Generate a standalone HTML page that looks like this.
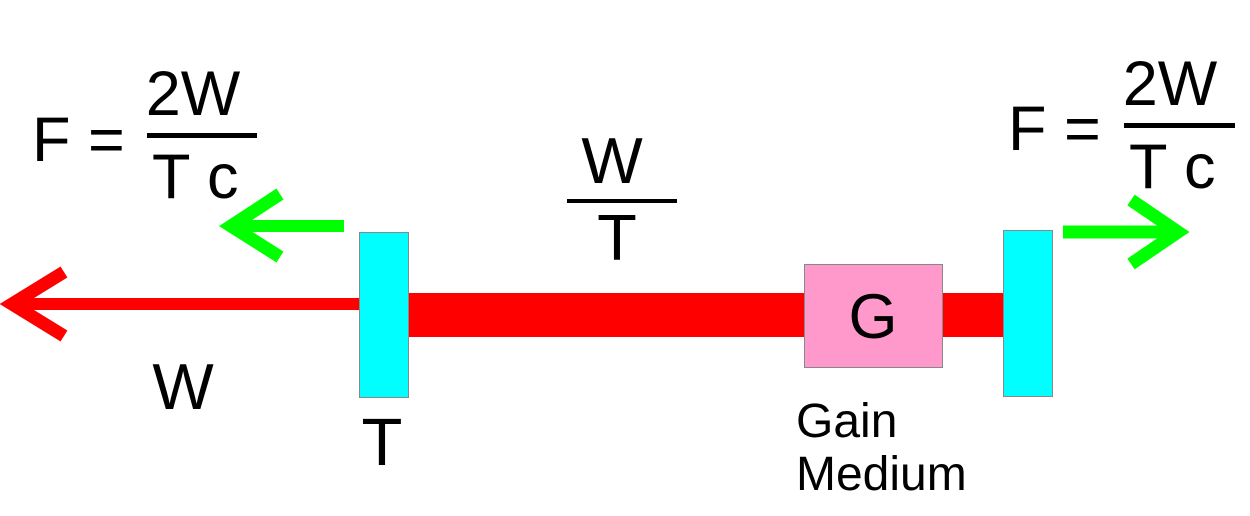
<!DOCTYPE html>
<html><head><meta charset="utf-8"><style>html,body{margin:0;padding:0;background:#fff;}svg{display:block}</style></head>
<body>
<svg width="1250" height="516" viewBox="0 0 1250 516" xmlns="http://www.w3.org/2000/svg" font-family="Liberation Sans, Arial, sans-serif" fill="#000">
<rect x="405" y="293" width="600" height="44" fill="#ff0000"/>
<rect x="804.5" y="264.5" width="138" height="103" fill="#ff99cc" stroke="#888" stroke-width="1"/>
<text x="873" y="338" font-size="63" text-anchor="middle">G</text>
<rect x="359.5" y="232.5" width="49" height="165" fill="#00ffff" stroke="#888" stroke-width="1"/>
<rect x="1003.5" y="230.5" width="49" height="166" fill="#00ffff" stroke="#888" stroke-width="1"/>
<line x1="359" y1="304" x2="16" y2="304" stroke="#ff0000" stroke-width="12"/>
<polyline points="64,272 12,304 64,336" fill="none" stroke="#ff0000" stroke-width="13" stroke-linejoin="miter" stroke-miterlimit="10"/>
<line x1="344" y1="226" x2="234" y2="226" stroke="#00ff00" stroke-width="12"/>
<polyline points="280,194 231,226 280,257" fill="none" stroke="#00ff00" stroke-width="13" stroke-linejoin="miter" stroke-miterlimit="10"/>
<line x1="1063" y1="232" x2="1175" y2="232" stroke="#00ff00" stroke-width="13"/>
<polyline points="1131,200 1178,232 1131,264" fill="none" stroke="#00ff00" stroke-width="13" stroke-linejoin="miter" stroke-miterlimit="10"/>
<text x="32" y="161" font-size="63">F</text>
<text x="88" y="161" font-size="63">=</text>
<text x="193" y="115" font-size="63" text-anchor="middle">2W</text>
<rect x="147" y="133" width="110" height="5"/>
<text x="152" y="198" font-size="63">T</text>
<text x="207" y="198" font-size="63">c</text>
<text x="1008" y="150" font-size="63">F</text>
<text x="1064" y="150" font-size="63">=</text>
<text x="1170" y="105" font-size="63" text-anchor="middle">2W</text>
<rect x="1124" y="123" width="111" height="5"/>
<text x="1129" y="188" font-size="63">T</text>
<text x="1184" y="188" font-size="63">c</text>
<text x="612" y="183" font-size="65" text-anchor="middle">W</text>
<rect x="567" y="199" width="110" height="4"/>
<text x="617" y="260" font-size="65" text-anchor="middle">T</text>
<text x="183" y="409" font-size="65" text-anchor="middle">W</text>
<text x="382" y="465" font-size="67" text-anchor="middle">T</text>
<text x="796" y="437" font-size="48">Gain</text>
<text x="796" y="490" font-size="48">Medium</text>
</svg>
</body></html>
